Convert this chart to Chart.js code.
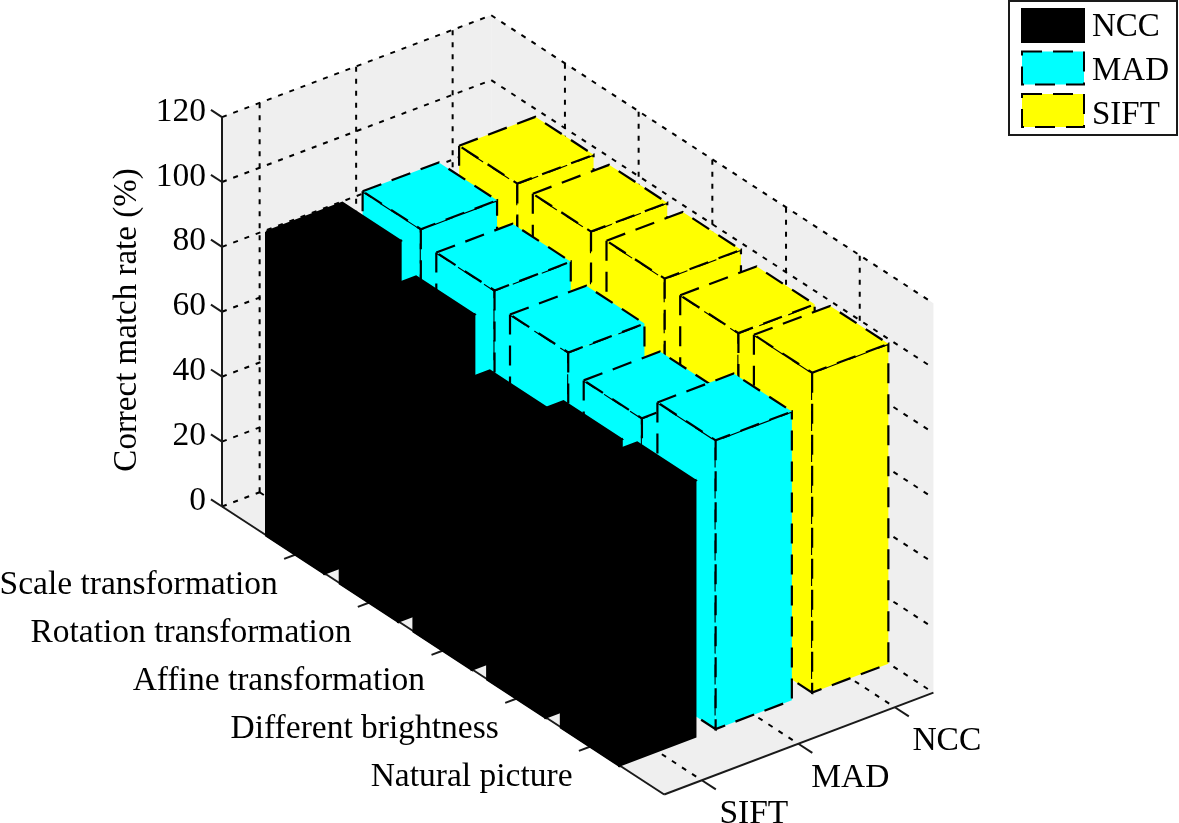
<!DOCTYPE html>
<html>
<head>
<meta charset="utf-8">
<title>Correct match rate</title>
<script src="https://cdn.jsdelivr.net/npm/chart.js@4"></script>
<style>
    html, body { margin: 0; background: #fff; }
    canvas { display: block; }
</style>
</head>
<body>
<canvas id="chart" width="1179" height="823"></canvas>
<script>
const categories = ['Scale transformation', 'Rotation transformation', 'Affine transformation', 'Different brightness', 'Natural picture'];
const depthLabels = ['SIFT', 'MAD', 'NCC'];
const legendNames = ['NCC', 'MAD', 'SIFT'];
const zTicks = [0, 20, 40, 60, 80, 100, 120];
const zTitle = 'Correct match rate (%)';

// bar heights, one row per depth position (front row first)
const nccValues = [93.7, 85.8, 71.6, 76.9, 79];
const madValues = [94.9, 90.8, 86.5, 81, 89];
const siftValues = [97.7, 97.7, 98, 96, 98.6];

const rows = [nccValues, madValues, siftValues];
const colors = ['#000000', '#00ffff', '#ffff00'];

const C_MAX = 6, S_MIN = 0.61, S_MAX = 3.4, Z_MAX = 120;
const HALF = 0.395;
const FONT = '33.5px "Liberation Serif"';

// fixed 3D view -> the flat x/y space of the chart's scales
function project(c, s, z) {
    return {
        x: 222 + c * 73.7 + (s - S_MIN) * 96.5,
        y: 506.5 + c * 48 - (s - S_MIN) * 36.5 - z * 3.245
    };
}

function poly(points, opts) {
    return Object.assign({
        data: points,
        showLine: true,
        pointRadius: 0,
        tension: 0,
        fill: false,
        clip: false,
        borderColor: '#000',
        borderWidth: 2,
        borderJoinStyle: 'miter'
    }, opts);
}

function wall(points) {
    return poly(points.concat([points[0]]), { fill: 'shape', backgroundColor: '#efefef', borderWidth: 0 });
}

function gridLine(a, b) {
    return poly([a, b], { borderDash: [5, 7] });
}

function solidLine(a, b) {
    return poly([a, b], { borderColor: '#1a1a1a', borderWidth: 2 });
}

function buildBackground() {
    const list = [];
    list.push(wall([project(0, S_MIN, 0), project(0, S_MAX, 0), project(0, S_MAX, Z_MAX), project(0, S_MIN, Z_MAX)]));
    list.push(wall([project(0, S_MAX, 0), project(C_MAX, S_MAX, 0), project(C_MAX, S_MAX, Z_MAX), project(0, S_MAX, Z_MAX)]));
    list.push(wall([project(0, S_MIN, 0), project(C_MAX, S_MIN, 0), project(C_MAX, S_MAX, 0), project(0, S_MAX, 0)]));

    zTicks.forEach(z => {
        list.push(gridLine(project(0, S_MIN, z), project(0, S_MAX, z)));
        list.push(gridLine(project(0, S_MAX, z), project(C_MAX, S_MAX, z)));
    });
    depthLabels.forEach((_, i) => {
        const s = i + 1;
        list.push(gridLine(project(0, s, 0), project(0, s, Z_MAX)));
        list.push(gridLine(project(0, s, 0), project(C_MAX, s, 0)));
    });
    categories.forEach((_, i) => {
        const c = i + 1;
        list.push(gridLine(project(c, S_MAX, 0), project(c, S_MAX, Z_MAX)));
        list.push(gridLine(project(c, S_MIN, 0), project(c, S_MAX, 0)));
    });
    return list;
}

function buildAxes() {
    const list = [];
    list.push(solidLine(project(0, S_MIN, 0), project(0, S_MIN, Z_MAX)));
    list.push(solidLine(project(0, S_MIN, 0), project(C_MAX, S_MIN, 0)));
    list.push(solidLine(project(C_MAX, S_MIN, 0), project(C_MAX, S_MAX, 0)));
    zTicks.forEach(z => list.push(solidLine(project(0, S_MIN, z), project(-0.15, S_MIN, z))));
    categories.forEach((_, i) => list.push(solidLine(project(i + 1, S_MIN, 0), project(i + 1, S_MIN - 0.12, 0))));
    depthLabels.forEach((_, i) => list.push(solidLine(project(C_MAX, i + 1, 0), project(C_MAX + 0.19, i + 1, 0))));
    return list;
}

function buildBars() {
    const list = [];
    // painter's order: back row first, and left to right inside a row
    for (let r = rows.length - 1; r >= 0; r--) {
        rows[r].forEach((val, i) => {
            const c0 = i + 1 - HALF, c1 = i + 1 + HALF;
            const s0 = r + 1 - HALF, s1 = r + 1 + HALF;
            const face = pts => poly(pts.concat([pts[0]]), {
                fill: 'shape',
                backgroundColor: colors[r],
                borderWidth: 2.2,
                // the black row reads as one block, dashes only leave seams there
                borderDash: r === 0 ? [] : [20, 11]
            });
            list.push(face([project(c0, s0, val), project(c0, s0, 0), project(c1, s0, 0), project(c1, s0, val)]));
            list.push(face([project(c1, s0, val), project(c1, s0, 0), project(c1, s1, 0), project(c1, s1, val)]));
            list.push(face([project(c0, s0, val), project(c0, s1, val), project(c1, s1, val), project(c1, s0, val)]));
        });
    }
    return list;
}

const textPlugin = {
    id: 'texts',
    afterDatasetsDraw(chart) {
        const ctx = chart.ctx;
        const sx = chart.scales.x, sy = chart.scales.y;
        const at = p => ({ x: sx.getPixelForValue(p.x), y: sy.getPixelForValue(p.y) });

        ctx.save();
        ctx.fillStyle = '#000';
        ctx.font = FONT;
        ctx.textBaseline = 'middle';

        ctx.textAlign = 'right';
        zTicks.forEach(z => {
            const p = at(project(-0.15, S_MIN, z));
            ctx.fillText(String(z), p.x - 5, p.y + 2);
        });
        categories.forEach((name, i) => {
            const p = at(project(i + 1, S_MIN, 0));
            ctx.fillText(name, p.x - 18, p.y + 31);
        });

        ctx.textAlign = 'center';
        depthLabels.forEach((name, i) => {
            const p = at(project(C_MAX, i + 1, 0));
            ctx.fillText(name, p.x + 52, p.y + 34);
        });

        ctx.save();
        ctx.translate(127, 320);
        ctx.rotate(-Math.PI / 2);
        ctx.font = '33px "Liberation Serif"';
        ctx.fillText(zTitle, 0, 0);
        ctx.restore();

        // legend box
        ctx.fillStyle = '#fff';
        ctx.strokeStyle = '#1a1a1a';
        ctx.lineWidth = 2;
        ctx.fillRect(1009, 1, 168, 134);
        ctx.strokeRect(1009, 1, 168, 134);
        legendNames.forEach((name, i) => {
            const top = 9 + i * 42.5;
            ctx.fillStyle = colors[i];
            ctx.fillRect(1022, top, 62, 33);
            ctx.setLineDash(i === 0 ? [] : [20, 11]);
            ctx.strokeStyle = '#000';
            ctx.strokeRect(1022, top, 62, 33);
            ctx.setLineDash([]);
            ctx.fillStyle = '#000';
            ctx.textAlign = 'left';
            ctx.font = '33px "Liberation Serif"';
            ctx.fillText(name, 1092, 27 + i * 44);
        });
        ctx.restore();
    }
};

// chart.js draws the first dataset on top, so the painter's list is reversed
const datasets = [...buildBackground(), ...buildAxes(), ...buildBars()].reverse();

new Chart(document.getElementById('chart'), {
    type: 'scatter',
    data: { datasets },
    options: {
        responsive: false,
        animation: false,
        events: [],
        layout: { padding: 0 },
        scales: {
            x: { type: 'linear', min: 0, max: 1179, display: false },
            y: { type: 'linear', min: 0, max: 823, reverse: true, display: false }
        },
        plugins: {
            legend: { display: false },
            tooltip: { enabled: false }
        }
    },
    plugins: [textPlugin]
});
</script>
</body>
</html>
